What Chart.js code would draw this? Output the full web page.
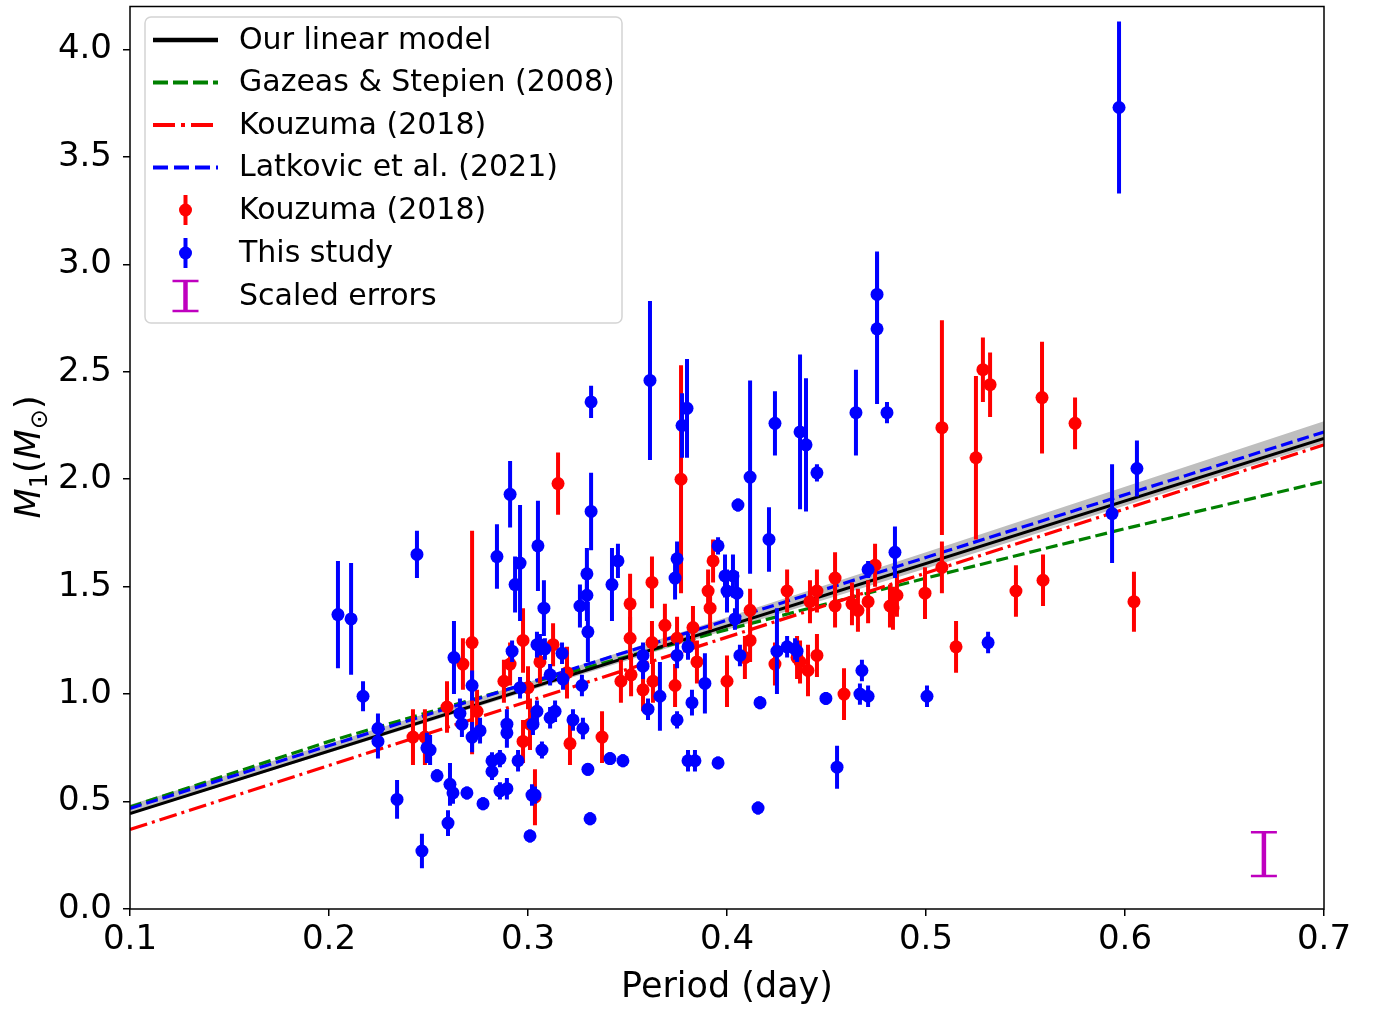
<!DOCTYPE html>
<html><head><meta charset="utf-8">
<script src="https://cdn.jsdelivr.net/npm/chart.js@4.4.1/dist/chart.umd.min.js"></script>
<style>html,body{margin:0;padding:0;background:#fff;overflow:hidden}</style>
</head><body>
<canvas id="c" width="1380" height="1011" style="width:1380px;height:1011px;display:block"></canvas>
<script>
// ---------- tick labels ----------
const xTicks = [0.1, 0.2, 0.3, 0.4, 0.5, 0.6, 0.7];
const yTicks = [0.0, 0.5, 1.0, 1.5, 2.0, 2.5, 3.0, 3.5, 4.0];

// ---------- relation lines (period in day, M1 in Msun) ----------
const lineP = [0.1, 0.7];
const ourModelM = [0.444, 2.19];
const kouzumaLineM = [0.37, 2.16];
const latkovicM = [0.468, 2.22];
const gazeasP = [0.1, 0.2, 0.3, 0.4, 0.5, 0.6, 0.7];
const gazeasM = [0.475, 0.78, 1.05, 1.30, 1.54, 1.77, 1.99];
const bandP = [0.1, 0.3, 0.5, 0.7];
const bandUpperM = [0.485, 1.055, 1.66, 2.27];
const bandLowerM = [0.44, 1.015, 1.585, 2.17];

// ---------- points: [period, M1, error] ----------
const kouzumaData = [
 [0.2422,0.80,0.13],[0.2482,0.80,0.13],
 [0.2719,1.24,0.52],[0.2673,1.14,0.12],[0.2593,0.94,0.12],[0.2744,0.92,0.10],[0.2879,1.06,0.10],[0.2910,1.14,0.10],
 [0.2975,1.25,0.15],[0.3000,1.03,0.10],[0.2975,0.78,0.10],[0.3010,0.86,0.12],
 [0.3151,1.98,0.145],[0.3060,1.15,0.10],[0.3126,1.23,0.10],[0.3196,1.10,0.12],[0.3211,0.77,0.10],[0.3372,0.80,0.12],[0.3035,0.52,0.13],
 [0.3769,2.00,0.53],[0.3513,1.42,0.14],[0.3623,1.52,0.12],[0.3513,1.26,0.10],[0.3688,1.32,0.10],[0.3623,1.24,0.10],
 [0.3749,1.26,0.10],[0.3829,1.31,0.10],[0.3467,1.06,0.10],[0.3518,1.09,0.10],[0.3628,1.06,0.10],[0.3739,1.04,0.10],[0.3578,1.02,0.10],
 [0.3930,1.62,0.10],[0.3905,1.48,0.10],[0.3915,1.40,0.10],[0.4116,1.39,0.10],[0.4116,1.25,0.10],[0.4090,1.17,0.10],
 [0.4302,1.48,0.10],[0.4241,1.14,0.10],[0.3849,1.15,0.10],[0.4000,1.06,0.12],
 [0.4543,1.54,0.12],[0.4452,1.48,0.10],[0.4417,1.43,0.10],[0.4543,1.41,0.10],[0.4628,1.42,0.10],[0.4658,1.39,0.10],
 [0.4709,1.43,0.10],[0.4819,1.41,0.10],[0.4744,1.60,0.10],[0.4352,1.17,0.10],[0.4367,1.15,0.10],[0.4452,1.18,0.10],
 [0.4407,1.11,0.12],[0.4588,1.00,0.12],
 [0.5080,2.24,0.50],[0.5251,2.10,0.38],[0.5286,2.51,0.15],[0.5322,2.44,0.15],[0.5080,1.59,0.12],[0.4854,1.46,0.10],
 [0.4834,1.40,0.10],[0.4995,1.47,0.12],[0.5151,1.22,0.12],
 [0.5583,2.38,0.26],[0.5749,2.26,0.12],[0.5452,1.48,0.12],[0.5588,1.53,0.12],[0.6045,1.43,0.14]
];
const studyData = [
 [0.2045,1.37,0.25],[0.2111,1.35,0.26],[0.2171,0.99,0.07],[0.2246,0.84,0.07],[0.2246,0.78,0.08],[0.2342,0.51,0.09],
 [0.2442,1.65,0.11],[0.2467,0.27,0.08],[0.2492,0.75,0.07],[0.2508,0.74,0.07],[0.2543,0.62,0.03],
 [0.2628,1.17,0.17],[0.2719,1.04,0.07],[0.2658,0.91,0.07],[0.2668,0.86,0.06],[0.2719,0.80,0.07],[0.2759,0.83,0.06],
 [0.2608,0.58,0.10],[0.2623,0.54,0.05],[0.2598,0.40,0.06],[0.2693,0.54,0.03],[0.2774,0.49,0.03],[0.2819,0.69,0.04],
 [0.2859,0.70,0.04],[0.2819,0.64,0.04],[0.2859,0.55,0.04],[0.2894,0.56,0.05],[0.2894,0.86,0.07],[0.2894,0.82,0.07],
 [0.2950,0.69,0.05],[0.3010,0.34,0.03],[0.3020,0.53,0.05],[0.2920,1.20,0.05],[0.2960,1.03,0.05],[0.3045,1.23,0.06],
 [0.2910,1.93,0.155],[0.2844,1.64,0.15],[0.2960,1.61,0.27],[0.2935,1.51,0.13],
 [0.3317,2.36,0.075],[0.3050,1.69,0.21],[0.3317,1.85,0.18],[0.3080,1.40,0.13],[0.3296,1.56,0.12],[0.3296,1.46,0.12],
 [0.3261,1.41,0.10],[0.3301,1.29,0.14],[0.3422,1.51,0.17],[0.3060,1.23,0.05],[0.3085,1.21,0.05],[0.3111,1.09,0.05],
 [0.3176,1.07,0.05],[0.3171,1.19,0.05],[0.3271,1.04,0.05],[0.3045,0.92,0.05],[0.3025,0.86,0.05],[0.3136,0.92,0.05],
 [0.3111,0.89,0.05],[0.3226,0.88,0.05],[0.3276,0.84,0.05],[0.3412,0.70,0.03],[0.3477,0.69,0.03],[0.3070,0.74,0.04],
 [0.3301,0.65,0.03],[0.3035,0.53,0.04],[0.3312,0.42,0.03],
 [0.3613,2.46,0.37],[0.3799,2.33,0.23],[0.3774,2.25,0.15],[0.3452,1.62,0.08],[0.3749,1.63,0.08],[0.3739,1.54,0.10],
 [0.3578,1.18,0.06],[0.3578,1.13,0.06],[0.3749,1.18,0.06],[0.3804,1.22,0.06],[0.3663,0.99,0.16],[0.3603,0.93,0.05],
 [0.3749,0.88,0.04],[0.3824,0.96,0.06],[0.3804,0.69,0.05],[0.3839,0.69,0.05],
 [0.4116,2.01,0.45],[0.4241,2.26,0.15],[0.4055,1.88,0.03],[0.4211,1.72,0.15],[0.3955,1.69,0.04],[0.3990,1.55,0.10],
 [0.4030,1.55,0.10],[0.4000,1.48,0.10],[0.4050,1.47,0.10],[0.4040,1.35,0.05],[0.4065,1.18,0.05],[0.4251,1.20,0.20],
 [0.4302,1.22,0.05],[0.3889,1.05,0.14],[0.4166,0.96,0.03],[0.3955,0.68,0.03],[0.4156,0.47,0.03],
 [0.4754,2.86,0.20],[0.4754,2.70,0.35],[0.4804,2.31,0.05],[0.4648,2.31,0.20],[0.4367,2.22,0.36],[0.4397,2.16,0.31],
 [0.4452,2.03,0.04],[0.4844,1.66,0.12],[0.4709,1.58,0.04],[0.4342,1.21,0.05],[0.4352,1.20,0.05],[0.4497,0.98,0.03],
 [0.4678,1.11,0.05],[0.4668,1.00,0.05],[0.4709,0.99,0.05],[0.4553,0.66,0.10],
 [0.5005,0.99,0.05],[0.5312,1.24,0.05],[0.5970,3.73,0.40],[0.5935,1.84,0.23],[0.6060,2.05,0.13]
];
const scaledErrData = [[0.6698, 0.255, 0.102]];

// ---------- styles ----------
const FONT = '"DejaVu Sans", "Liberation Sans", sans-serif';
const COL = {black:'#000000', green:'#008000', red:'#ff0000', blue:'#0000ff', mag:'#bf00bf', band:'#bebebe'};
const DASH_GREEN = [12, 5], DASH_BLUE = [12, 5], DASH_RED = [18, 5, 3, 5];
const LEG_DASH_GREEN = [15, 5], LEG_DASH_BLUE = [15, 6], LEG_DASH_RED = [22, 6, 4, 6];

const toXY = (xs, ys) => xs.map((v, i) => ({x: v, y: ys[i]}));
const toPts = arr => arr.map(d => ({x: d[0], y: d[1], e: d[2]}));

const errorBarPlugin = {
  id: 'errbars',
  beforeDatasetDraw(chart, args) {
    const ds = chart.data.datasets[args.index];
    if (!ds.errBars) return;
    const {ctx, chartArea: a} = chart;
    const xs = chart.scales.x, ys = chart.scales.y;
    ctx.save();
    ctx.beginPath(); ctx.rect(a.left, a.top, a.right - a.left, a.bottom - a.top); ctx.clip();
    ctx.strokeStyle = ds.errColor; ctx.lineCap = 'butt';
    ds.data.forEach(p => {
      const px = xs.getPixelForValue(p.x);
      const y1 = ys.getPixelForValue(p.y - p.e), y2 = ys.getPixelForValue(p.y + p.e);
      ctx.lineWidth = ds.errWidth;
      ctx.beginPath(); ctx.moveTo(px, y1); ctx.lineTo(px, y2); ctx.stroke();
      if (ds.capHalf) {
        ctx.lineWidth = ds.capWidth;
        ctx.beginPath();
        ctx.moveTo(px - ds.capHalf, y1); ctx.lineTo(px + ds.capHalf, y1);
        ctx.moveTo(px - ds.capHalf, y2); ctx.lineTo(px + ds.capHalf, y2);
        ctx.stroke();
      }
    });
    ctx.restore();
  }
};

const decorPlugin = {
  id: 'decor',
  afterDraw(chart) {
    const {ctx, chartArea: a} = chart;
    // frame
    ctx.save();
    ctx.strokeStyle = '#000'; ctx.lineWidth = 1.5;
    ctx.strokeRect(a.left, a.top, a.right - a.left, a.bottom - a.top);
    ctx.restore();

    // y-axis label  M_1(M_sun)
    ctx.save();
    ctx.translate(27, 457); ctx.rotate(-Math.PI / 2);
    const big = 35, small = 24;
    const parts = [
      {t: 'M', f: `italic ${big}px ${FONT}`, dy: 0},
      {t: '1', f: `${small}px ${FONT}`, dy: 7},
      {t: '(', f: `${big}px ${FONT}`, dy: 0},
      {t: 'M', f: `italic ${big}px ${FONT}`, dy: 0},
      {t: '\u2299', f: `${small}px ${FONT}`, dy: 7},
      {t: ')', f: `${big}px ${FONT}`, dy: 0}
    ];
    let total = 0;
    parts.forEach(p => { ctx.font = p.f; p.w = ctx.measureText(p.t).width; total += p.w; });
    let cx = -total / 2;
    ctx.fillStyle = '#000'; ctx.textBaseline = 'alphabetic'; ctx.textAlign = 'left';
    parts.forEach(p => { ctx.font = p.f; ctx.fillText(p.t, cx, 12.6 + p.dy); cx += p.w; });
    ctx.restore();

    // legend
    ctx.save();
    const L = 145, T = 17, R = 622, B = 323, rad = 6;
    ctx.beginPath();
    ctx.moveTo(L + rad, T); ctx.lineTo(R - rad, T); ctx.arcTo(R, T, R, T + rad, rad);
    ctx.lineTo(R, B - rad); ctx.arcTo(R, B, R - rad, B, rad);
    ctx.lineTo(L + rad, B); ctx.arcTo(L, B, L, B - rad, rad);
    ctx.lineTo(L, T + rad); ctx.arcTo(L, T, L + rad, T, rad);
    ctx.closePath();
    ctx.fillStyle = 'rgba(255,255,255,0.8)'; ctx.fill();
    ctx.strokeStyle = '#d4d4d4'; ctx.lineWidth = 1.5; ctx.stroke();

    const rows = [40, 82.5, 125, 167.5, 210, 253, 296];
    const labels = ['Our linear model', 'Gazeas & Stepien (2008)', 'Kouzuma (2018)', 'Latkovic et al. (2021)',
                    'Kouzuma (2018)', 'This study', 'Scaled errors'];
    const hx1 = 153, hx2 = 218, hc = 185.5;
    const lineStyles = [
      {c: COL.black, w: 4.5, d: []}, {c: COL.green, w: 4, d: LEG_DASH_GREEN},
      {c: COL.red, w: 4, d: LEG_DASH_RED}, {c: COL.blue, w: 4, d: LEG_DASH_BLUE}
    ];
    lineStyles.forEach((s, i) => {
      ctx.strokeStyle = s.c; ctx.lineWidth = s.w; ctx.setLineDash(s.d);
      ctx.beginPath(); ctx.moveTo(hx1, rows[i]); ctx.lineTo(hx2, rows[i]); ctx.stroke();
    });
    ctx.setLineDash([]);
    [[COL.red, rows[4]], [COL.blue, rows[5]]].forEach(([c, y]) => {
      ctx.strokeStyle = c; ctx.lineWidth = 4;
      ctx.beginPath(); ctx.moveTo(hc, y - 15); ctx.lineTo(hc, y + 15); ctx.stroke();
      ctx.fillStyle = c; ctx.beginPath(); ctx.arc(hc, y, 6.5, 0, Math.PI * 2); ctx.fill();
    });
    {
      const y = rows[6];
      ctx.strokeStyle = COL.mag; ctx.lineWidth = 4.5;
      ctx.beginPath(); ctx.moveTo(hc, y - 15); ctx.lineTo(hc, y + 15); ctx.stroke();
      ctx.lineWidth = 2.5;
      ctx.beginPath(); ctx.moveTo(hc - 13, y - 15); ctx.lineTo(hc + 13, y - 15);
      ctx.moveTo(hc - 13, y + 15); ctx.lineTo(hc + 13, y + 15); ctx.stroke();
    }
    ctx.fillStyle = '#000'; ctx.font = `30px ${FONT}`; ctx.textBaseline = 'middle'; ctx.textAlign = 'left';
    labels.forEach((t, i) => ctx.fillText(t, 239, rows[i] + 1));
    ctx.restore();
  }
};

const lineDs = (label, data, color, width, dash, order) => ({
  label, data, showLine: true, borderColor: color, borderWidth: width, borderDash: dash,
  pointRadius: 0, pointHoverRadius: 0, fill: false, tension: 0, order
});

new Chart(document.getElementById('c'), {
  type: 'scatter',
  data: {
    datasets: [
      {label: 'This study', data: toPts(studyData), backgroundColor: COL.blue, borderWidth: 0,
       pointRadius: 6.5, pointHoverRadius: 6.5, errBars: true, errColor: COL.blue, errWidth: 4, order: 0},
      {label: 'Kouzuma (2018)', data: toPts(kouzumaData), backgroundColor: COL.red, borderWidth: 0,
       pointRadius: 6.5, pointHoverRadius: 6.5, errBars: true, errColor: COL.red, errWidth: 4, order: 1},
      {label: 'Scaled errors', data: toPts(scaledErrData), pointRadius: 0, pointHoverRadius: 0,
       errBars: true, errColor: COL.mag, errWidth: 4.5, capHalf: 13, capWidth: 2.5, order: 2},
      lineDs('Our linear model', toXY(lineP, ourModelM), COL.black, 3.2, [], 3),
      lineDs('Latkovic et al. (2021)', toXY(lineP, latkovicM), COL.blue, 3.2, DASH_BLUE, 4),
      lineDs('Kouzuma (2018) line', toXY(lineP, kouzumaLineM), COL.red, 3.2, DASH_RED, 5),
      lineDs('Gazeas & Stepien (2008)', toXY(gazeasP, gazeasM), COL.green, 3.2, DASH_GREEN, 6),
      {label: 'band upper', data: toXY(bandP, bandUpperM), showLine: true, borderWidth: 0, borderColor: 'rgba(0,0,0,0)',
       backgroundColor: COL.band, pointRadius: 0, fill: '+1', order: 7},
      {label: 'band lower', data: toXY(bandP, bandLowerM), showLine: true, borderWidth: 0, borderColor: 'rgba(0,0,0,0)',
       pointRadius: 0, fill: false, order: 8}
    ]
  },
  options: {
    responsive: false, animation: false, devicePixelRatio: 1, events: [],
    layout: {padding: {left: 6, top: 2, right: 56, bottom: 0}},
    plugins: {legend: {display: false}, tooltip: {enabled: false}},
    scales: {
      x: {
        type: 'linear', min: 0.1, max: 0.7,
        afterBuildTicks: s => { s.ticks = xTicks.map(v => ({value: v})); },
        afterFit: s => { s.height = 102; s.paddingLeft = 0; s.paddingRight = 0; },
        ticks: {font: {family: FONT, size: 34}, color: '#000', padding: 4, maxRotation: 0, autoSkip: false,
                callback: v => v.toFixed(1)},
        grid: {display: true, drawOnChartArea: false, drawTicks: true, tickLength: 7, color: '#000', lineWidth: 1.5},
        border: {display: false},
        title: {display: true, text: 'Period (day)', color: '#000', font: {family: FONT, size: 35}, padding: {top: 0, bottom: 2}}
      },
      y: {
        type: 'linear', min: 0, max: 4.2,
        afterBuildTicks: s => { s.ticks = yTicks.map(v => ({value: v})); },
        afterFit: s => { s.width = 124; s.paddingTop = 0; s.paddingBottom = 0; },
        ticks: {font: {family: FONT, size: 34}, color: '#000', padding: 11, autoSkip: false,
                callback: v => v.toFixed(1)},
        grid: {display: true, drawOnChartArea: false, drawTicks: true, tickLength: 7, color: '#000', lineWidth: 1.5},
        border: {display: false},
        title: {display: false}
      }
    }
  },
  plugins: [errorBarPlugin, decorPlugin]
});
</script>
</body></html>
